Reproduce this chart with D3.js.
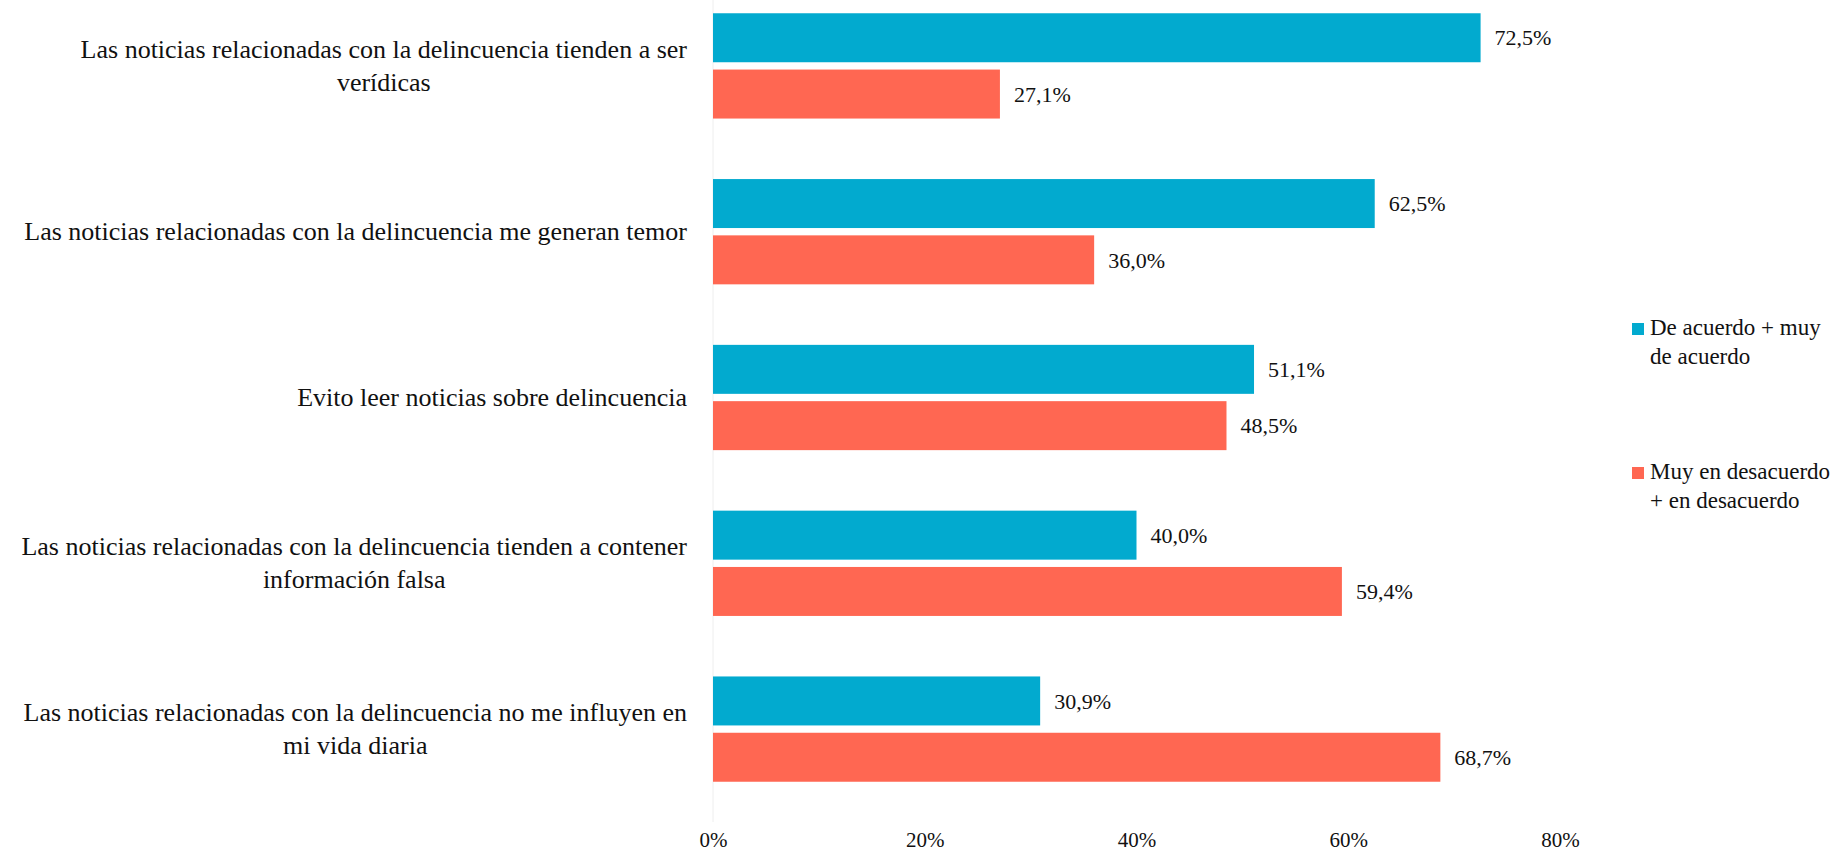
<!DOCTYPE html>
<html>
<head>
<meta charset="utf-8">
<script src="https://cdn.jsdelivr.net/npm/d3@7"></script>
<style>
  body { margin: 0; background: #fff; }
  text { font-family: "Liberation Serif", "Times New Roman", serif; fill: #111; }
</style>
</head>
<body>
<div id="chart"></div>
<script>
// categories (line breaks as in the original)
var categories = [
  ["Las noticias relacionadas con la delincuencia tienden a ser", "verídicas"],
  ["Las noticias relacionadas con la delincuencia me generan temor"],
  ["Evito leer noticias sobre delincuencia"],
  ["Las noticias relacionadas con la delincuencia tienden a contener", "información falsa"],
  ["Las noticias relacionadas con la delincuencia no me influyen en", "mi vida diaria"]
];
var seriesNames = [["De acuerdo + muy", "de acuerdo"], ["Muy en desacuerdo", "+ en desacuerdo"]];
var acuerdo = [72.5, 62.5, 51.1, 40.0, 30.9];
var desacuerdo = [27.1, 36.0, 48.5, 59.4, 68.7];
var tickValues = [0, 20, 40, 60, 80];
var colors = ["#02aacf", "#ff6752"];

var width = 1841, height = 854;
var x0 = 713, x1 = 1560, labelRight = 687;

var svg = d3.select("#chart").append("svg")
    .attr("width", width)
    .attr("height", height);

var x = d3.scaleLinear().domain([0, 80]).range([x0, x1]);

var y = d3.scaleBand()
    .domain(d3.range(categories.length))
    .range([-17, 812])
    .paddingInner(0.365)
    .paddingOuter(0.1825);

var ySub = d3.scaleBand()
    .domain([0, 1])
    .range([0, y.bandwidth()])
    .paddingInner(0.13);

var fmt = function(v) { return d3.format(".1f")(v).replace(".", ",") + "%"; };

// vertical axis line
svg.append("line")
    .attr("x1", x(0)).attr("x2", x(0))
    .attr("y1", 0).attr("y2", 822)
    .style("stroke", "#eeeeee")
    .style("stroke-width", 1);

var rows = categories.map(function(c, i) {
  return { i: i, vals: [acuerdo[i], desacuerdo[i]] };
});

var g = svg.selectAll("g.cat")
    .data(rows)
  .enter().append("g")
    .attr("class", "cat")
    .attr("transform", function(d) { return "translate(0," + y(d.i) + ")"; });

g.selectAll("rect")
    .data(function(d) { return d.vals; })
  .enter().append("rect")
    .attr("x", x(0))
    .attr("y", function(d, j) { return ySub(j); })
    .attr("width", function(d) { return x(d) - x(0); })
    .attr("height", ySub.bandwidth())
    .style("fill", function(d, j) { return colors[j]; });

g.selectAll("text.val")
    .data(function(d) { return d.vals; })
  .enter().append("text")
    .attr("class", "val")
    .attr("x", function(d) { return x(d) + 14; })
    .attr("y", function(d, j) { return ySub(j) + ySub.bandwidth() / 2; })
    .attr("dy", "0.35em")
    .style("font-size", "22px")
    .text(fmt);

// category labels: block right aligned, lines centered inside
categories.forEach(function(lines, i) {
  var cy = y(i) + y.bandwidth() / 2;
  var t = svg.append("text")
      .style("font-size", "26px")
      .attr("text-anchor", "middle");
  var lh = 33;
  lines.forEach(function(l, k) {
    t.append("tspan")
      .attr("y", cy + (k - (lines.length - 1) / 2) * lh)
      .attr("dy", "0.33em")
      .text(l);
  });
  var w = 0;
  t.selectAll("tspan").each(function() { w = Math.max(w, this.getComputedTextLength()); });
  t.selectAll("tspan").attr("x", labelRight - w / 2);
});

// x axis tick labels
var xAxis = d3.axisBottom(x)
    .tickValues(tickValues)
    .tickSize(0)
    .tickPadding(0)
    .tickFormat(function(d) { return d + "%"; });

var ax = svg.append("g")
    .attr("transform", "translate(0,832)")
    .call(xAxis);
ax.select(".domain").remove();
ax.selectAll("text")
    .style("font-size", "21px")
    .style("font-family", "'Liberation Serif', serif")
    .style("fill", "#111");

// legend
var legend = svg.selectAll("g.leg")
    .data(seriesNames)
  .enter().append("g")
    .attr("class", "leg")
    .attr("transform", function(d, i) { return "translate(1632," + (323 + i * 144) + ")"; });

legend.append("rect")
    .attr("width", 12).attr("height", 12)
    .style("fill", function(d, i) { return colors[i]; });

legend.append("text")
    .style("font-size", "23px")
    .selectAll("tspan")
    .data(function(d) { return d; })
  .enter().append("tspan")
    .attr("x", 18)
    .attr("y", function(d, k) { return 12 + k * 29; })
    .text(function(d) { return d; });
</script>
</body>
</html>
